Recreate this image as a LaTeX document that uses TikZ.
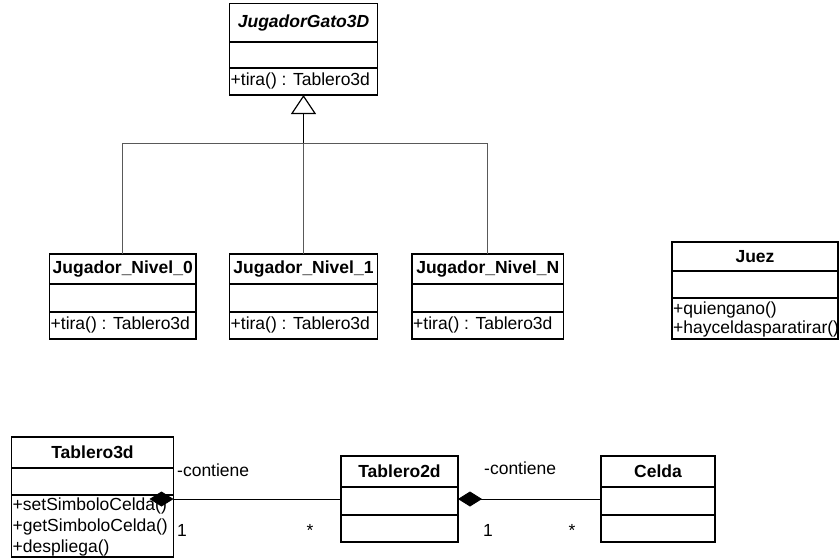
\documentclass[tikz,border=0pt]{standalone}
\usepackage{fontspec}
\setmainfont{Liberation Sans}
\usetikzlibrary{arrows.meta}
\begin{document}
\begin{tikzpicture}[x=1pt,y=-1pt,
  box/.style={draw, line width=1.2pt, inner sep=0pt, outer sep=0pt, anchor=north west},
  ttl/.style={font=\fontsize{17.5}{21}\selectfont\bfseries, inner sep=0pt},
  mth/.style={font=\fontsize{17.5}{21}\selectfont, inner sep=0pt, anchor=west},
  lbl/.style={font=\fontsize{17.5}{21}\selectfont, inner sep=0pt, anchor=base west},
  sepline/.style={line width=1.2pt},
  branch/.style={line width=0.9pt, draw=black!65},
  gen/.style={line width=1.3pt, -{Triangle[open, length=19pt, width=25pt, line width=1.2pt]}},
  comp/.style={line width=0.9pt, {Diamond[length=24pt, width=15pt]}-},
]
\useasboundingbox (0,0) rectangle (839,558);

% JugadorGato3D
\node[box, minimum width=148pt, minimum height=91.5pt] (G) at (229.5,3.5) {};
\draw[sepline] (G.west |- 0,42) -- (G.east |- 0,42);
\draw[sepline] (G.west |- 0,68) -- (G.east |- 0,68);
\node[ttl, font=\fontsize{17.5}{21}\selectfont\bfseries\itshape] (Gt) at (303.5,23) {JugadorGato3D};
\node[mth] (Gm) at (230.5,81) {+tira() : Tablero3d};

% Jugador_Nivel_0
\node[box, minimum width=146.5pt, minimum height=85pt] (J0) at (49.5,254) {};
\draw[sepline] (J0.west |- 0,284) -- (J0.east |- 0,284);
\draw[sepline] (J0.west |- 0,312) -- (J0.east |- 0,312);
\node[ttl] (J0t) at (J0.north |- 0,269) {Jugador\_Nivel\_0};
\node[mth] (J0m) at (50.5,325) {+tira() : Tablero3d};

% Jugador_Nivel_1
\node[box, minimum width=148pt, minimum height=85pt] (J1) at (229.5,254) {};
\draw[sepline] (J1.west |- 0,284) -- (J1.east |- 0,284);
\draw[sepline] (J1.west |- 0,312) -- (J1.east |- 0,312);
\node[ttl] (J1t) at (J1.north |- 0,269) {Jugador\_Nivel\_1};
\node[mth] (J1m) at (230.5,325) {+tira() : Tablero3d};

% Jugador_Nivel_N
\node[box, minimum width=151.5pt, minimum height=85pt] (JN) at (412,254) {};
\draw[sepline] (JN.west |- 0,284) -- (JN.east |- 0,284);
\draw[sepline] (JN.west |- 0,312) -- (JN.east |- 0,312);
\node[ttl] (JNt) at (JN.north |- 0,269) {Jugador\_Nivel\_N};
\node[mth] (JNm) at (413,325) {+tira() : Tablero3d};

% Juez
\node[box, minimum width=166pt, minimum height=97pt] (Jz) at (672,242) {};
\draw[sepline] (Jz.west |- 0,271) -- (Jz.east |- 0,271);
\draw[sepline] (Jz.west |- 0,298) -- (Jz.east |- 0,298);
\node[ttl] (Jzt) at (Jz.north |- 0,256.5) {Juez};
\node[mth] (Jzm1) at (673,310) {+quiengano()};
\node[mth] (Jzm2) at (673,329) {+hayceldasparatirar()};

% Tablero3d
\node[box, minimum width=162pt, minimum height=120pt] (T3) at (11.5,437) {};
\draw[sepline] (T3.west |- 0,468) -- (T3.east |- 0,468);
\draw[sepline] (T3.west |- 0,495) -- (T3.east |- 0,495);
\node[ttl] (T3t) at (T3.north |- 0,452.5) {Tablero3d};
\node[mth] (T3m1) at (12.5,506) {+setSimboloCelda()};
\node[mth] (T3m2) at (12.5,527) {+getSimboloCelda()};
\node[mth] (T3m3) at (12.5,548) {+despliega()};

% Tablero2d
\node[box, minimum width=117pt, minimum height=86pt] (T2) at (341,456) {};
\draw[sepline] (T2.west |- 0,487) -- (T2.east |- 0,487);
\draw[sepline] (T2.west |- 0,515) -- (T2.east |- 0,515);
\node[ttl] (T2t) at (T2.north |- 0,471.5) {Tablero2d};

% Celda
\node[box, minimum width=114pt, minimum height=86pt] (C) at (601,456) {};
\draw[sepline] (C.west |- 0,487) -- (C.east |- 0,487);
\draw[sepline] (C.west |- 0,515) -- (C.east |- 0,515);
\node[ttl] (Ct) at (C.north |- 0,471.5) {Celda};

% Generalization
\coordinate (bar) at (303.5,143);
\draw[branch] (J0.north) -- (J0.north |- bar) -- (JN.north |- bar) -- (JN.north);
\draw[branch] (J1.north) -- (bar);
\draw[gen] (bar) -- (G.south);

% Compositions
\draw[comp] ([xshift=-24pt]T3.east |- T2.west) -- (T2.west);
\draw[comp] (T2.east) -- (C.west);

% Labels
\node[lbl] (l1) at (177,476) {-contiene};
\node[lbl] (m1) at (177,536) {1};
\node[lbl] (s1) at (306.5,536) {*};
\node[lbl] (l2) at (484,474) {-contiene};
\node[lbl] (m2) at (483,536) {1};
\node[lbl] (s2) at (568.5,536) {*};
\end{tikzpicture}
\end{document}
